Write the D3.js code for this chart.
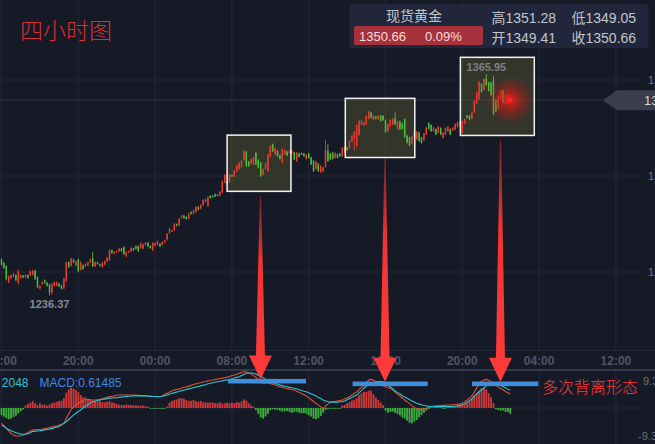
<!DOCTYPE html>
<html><head><meta charset="utf-8">
<script src="https://cdn.jsdelivr.net/npm/d3@7"></script>
<style>html,body{margin:0;padding:0;background:#161a27;overflow:hidden}svg{display:block}</style>
</head><body>
<svg id="c" width="655" height="444"></svg>
<script>
// ---------- DATA ----------
// candles: [open, high, low, close]
const candles = [
[1257.4,1257.9,1253.9,1254.4],[1255.4,1255.9,1252.0,1252.5],[1253.5,1254.0,1245.2,1246.0],[1244.1,1248.1,1243.6,1247.6],[1246.6,1248.7,1246.1,1248.2],
[1247.6,1249.5,1247.1,1249.0],[1248.2,1248.7,1244.8,1245.3],[1243.5,1251.4,1242.8,1250.5],[1246.6,1248.7,1246.1,1248.2],[1248.1,1248.5,1246.5,1246.9],
[1247.1,1248.7,1246.7,1248.3],[1248.2,1248.7,1246.1,1246.6],[1248.2,1251.0,1247.7,1250.5],[1248.6,1251.4,1248.1,1250.9],[1250.9,1251.4,1245.5,1246.2],
[1247.0,1247.5,1240.7,1241.4],[1240.4,1242.4,1239.9,1241.9],[1243.0,1244.6,1242.6,1244.2],[1245.3,1245.7,1243.2,1243.7],[1243.8,1244.2,1241.6,1242.1],
[1242.7,1243.2,1236.37,1238.5],[1238.0,1243.6,1236.8,1243.0],[1242.1,1244.6,1241.6,1244.1],[1242.3,1244.6,1241.6,1244.0],[1243.3,1243.8,1241.2,1241.7],
[1242.1,1242.6,1239.9,1240.4],[1240.6,1246.7,1240.1,1246.2],[1245.0,1256.3,1244.2,1255.6],[1255.8,1256.3,1252.6,1253.1],[1253.9,1258.4,1253.4,1257.9],
[1257.4,1257.9,1255.3,1255.8],[1253.9,1256.9,1253.4,1256.4],[1257.4,1257.9,1250.0,1250.8],[1251.5,1256.3,1251.0,1255.8],[1254.0,1254.5,1251.4,1251.9],
[1253.5,1255.3,1253.0,1254.8],[1254.1,1256.3,1253.6,1255.8],[1256.0,1258.1,1255.5,1257.6],[1258.0,1261.8,1253.0,1253.5],[1253.5,1256.3,1253.0,1255.8],
[1255.7,1256.1,1254.5,1254.9],[1254.5,1254.9,1253.4,1253.8],[1253.1,1255.9,1252.6,1255.4],[1254.5,1256.9,1254.0,1256.4],[1256.4,1259.0,1255.9,1258.5],
[1257.0,1263.3,1256.5,1262.6],[1262.8,1263.3,1260.8,1261.3],[1260.8,1262.2,1260.4,1261.8],[1261.6,1262.7,1261.2,1262.3],[1262.2,1264.1,1261.8,1263.7],
[1263.9,1264.3,1261.8,1262.2],[1264.6,1265.1,1260.0,1260.6],[1259.3,1262.2,1258.8,1261.7],[1261.6,1262.7,1261.2,1262.3],[1262.2,1264.7,1261.8,1264.2],
[1263.9,1264.3,1262.4,1262.8],[1265.2,1265.7,1263.3,1263.7],[1265.2,1265.7,1261.8,1262.3],[1264.2,1267.4,1263.7,1266.9],[1263.8,1266.7,1263.3,1266.2],
[1266.1,1267.6,1265.7,1267.2],[1267.2,1267.6,1264.7,1265.1],[1265.3,1265.7,1263.7,1264.1],[1262.9,1267.6,1262.4,1267.1],[1265.5,1267.6,1265.1,1267.2],
[1266.2,1268.6,1265.7,1268.1],[1266.6,1267.0,1264.7,1265.1],[1266.1,1268.0,1265.7,1267.6],[1267.4,1269.0,1267.0,1268.6],[1269.1,1272.9,1268.6,1272.4],
[1273.0,1276.0,1272.5,1275.5],[1273.8,1274.9,1273.5,1274.6],[1274.6,1278.8,1274.1,1278.3],[1278.0,1278.4,1276.8,1277.2],[1277.5,1281.7,1277.0,1281.2],
[1281.9,1283.5,1281.5,1283.1],[1283.1,1283.5,1281.3,1281.7],[1282.3,1282.7,1280.7,1281.1],[1281.4,1284.8,1280.9,1284.3],[1285.2,1285.6,1283.7,1284.1],
[1284.2,1286.6,1283.7,1286.1],[1285.1,1288.6,1284.6,1288.1],[1288.2,1288.6,1286.2,1286.6],[1287.3,1289.7,1286.8,1289.2],[1289.2,1292.7,1288.7,1292.2],
[1291.3,1293.0,1290.9,1292.6],[1288.7,1294.4,1288.2,1293.9],[1294.6,1295.0,1293.0,1293.4],[1294.6,1295.0,1293.6,1294.0],[1295.6,1296.0,1294.0,1294.4],
[1295.3,1295.6,1294.6,1294.9],[1294.9,1297.5,1294.4,1297.0],[1296.7,1303.8,1296.2,1303.0],[1302.5,1307.3,1302.0,1306.8],[1302.9,1303.2,1301.6,1301.9],
[1302.7,1307.7,1302.2,1307.2],[1306.9,1307.1,1305.7,1306.0],[1306.1,1309.7,1305.7,1309.3],[1309.1,1312.6,1308.7,1312.2],[1310.5,1314.5,1310.1,1314.1],
[1311.6,1315.5,1311.2,1315.1],[1316.0,1321.4,1315.5,1320.9],[1320.5,1321.0,1311.6,1312.2],[1314.7,1315.1,1311.6,1312.0],[1313.4,1316.5,1313.0,1316.1],
[1313.0,1317.5,1312.6,1317.1],[1319.9,1320.4,1312.6,1313.1],[1315.7,1316.1,1310.7,1311.1],[1314.1,1314.5,1305.7,1306.2],[1307.1,1310.7,1306.7,1310.3],
[1310.5,1313.9,1310.1,1313.5],[1309.2,1319.4,1308.7,1318.9],[1317.6,1324.3,1317.1,1323.8],[1324.9,1325.3,1320.4,1320.8],[1318.9,1323.0,1318.5,1322.6],
[1321.0,1321.4,1317.5,1317.9],[1318.5,1318.9,1315.9,1316.3],[1314.1,1322.4,1313.6,1321.9],[1318.9,1321.8,1318.5,1321.4],[1320.6,1321.0,1317.9,1318.3],
[1319.7,1321.4,1319.4,1321.1],[1319.5,1321.4,1319.0,1321.0],[1320.0,1320.4,1315.5,1315.9],[1314.9,1320.4,1314.5,1320.0],[1319.4,1319.8,1317.1,1317.5],
[1319.7,1320.0,1318.5,1318.8],[1319.4,1319.8,1317.5,1317.9],[1316.3,1319.0,1315.9,1318.6],[1319.4,1319.8,1316.5,1316.9],[1317.1,1317.5,1312.6,1313.1],
[1315.1,1315.5,1308.7,1309.2],[1310.5,1315.1,1310.1,1314.7],[1313.5,1313.9,1308.7,1309.1],[1308.5,1312.6,1308.1,1312.2],[1309.1,1311.6,1308.7,1311.2],
[1311.6,1327.2,1311.2,1321.4],[1321.0,1324.9,1314.5,1315.0],[1319.4,1319.8,1315.5,1315.9],[1320.0,1320.4,1315.9,1316.3],[1316.9,1320.0,1316.5,1319.6],
[1319.0,1319.4,1316.5,1316.9],[1319.4,1319.8,1317.5,1317.9],[1317.9,1323.3,1317.5,1322.9],[1320.2,1323.7,1319.8,1323.3],[1322.9,1323.3,1321.0,1321.4],
[1322.8,1327.2,1322.4,1326.8],[1326.6,1330.2,1326.2,1329.8],[1328.3,1332.7,1321.0,1332.2],[1324.0,1336.6,1323.3,1336.0],[1330.3,1339.0,1329.8,1338.5],
[1336.4,1339.0,1336.0,1338.6],[1335.9,1338.0,1335.5,1337.6],[1336.5,1341.9,1336.0,1341.4],[1339.8,1344.4,1339.4,1344.0],[1343.4,1343.8,1340.0,1340.4],
[1339.0,1341.9,1338.6,1341.5],[1341.0,1341.3,1339.4,1339.7],[1339.4,1341.9,1339.0,1341.5],[1341.5,1341.9,1338.0,1338.4],[1341.5,1341.9,1338.6,1339.0],
[1339.0,1339.4,1331.5,1332.0],[1332.5,1337.0,1332.1,1336.6],[1335.4,1339.4,1335.0,1339.0],[1336.4,1340.0,1336.0,1339.6],[1340.0,1343.5,1336.0,1336.5],
[1333.9,1338.6,1333.5,1338.2],[1338.2,1338.6,1333.1,1333.5],[1337.0,1337.4,1333.5,1333.9],[1339.6,1340.0,1328.6,1329.1],[1329.8,1330.2,1325.3,1325.7],
[1328.8,1329.2,1323.7,1324.2],[1325.3,1329.6,1324.9,1329.2],[1328.8,1333.1,1328.4,1332.7],[1327.7,1332.7,1327.3,1332.3],[1331.7,1332.1,1326.2,1326.7],
[1328.8,1329.2,1325.3,1325.7],[1327.2,1331.5,1326.8,1331.1],[1330.6,1335.0,1330.2,1334.6],[1337.2,1337.6,1333.5,1333.9],[1336.1,1336.5,1332.1,1332.5],
[1332.5,1335.0,1332.1,1334.6],[1333.7,1334.1,1330.2,1330.6],[1331.6,1335.5,1331.2,1335.1],[1334.3,1334.7,1330.2,1330.6],[1328.6,1332.1,1328.2,1331.7],
[1330.6,1334.7,1330.2,1334.3],[1332.5,1335.5,1332.1,1335.1],[1333.7,1334.1,1330.2,1330.6],[1333.0,1334.7,1332.7,1334.4],[1333.5,1337.0,1333.1,1336.6],
[1335.1,1338.0,1334.7,1337.6],[1335.9,1338.6,1335.5,1338.2],[1331.6,1338.6,1331.2,1338.2],[1337.0,1340.0,1336.6,1339.6],[1341.6,1341.9,1340.0,1340.3],
[1341.5,1341.9,1339.0,1339.4],[1339.8,1343.8,1339.4,1343.4],[1343.6,1350.7,1343.2,1350.3],[1348.8,1355.6,1348.4,1355.2],[1351.1,1361.8,1350.7,1361.3],
[1360.1,1360.5,1355.0,1355.4],[1356.6,1363.4,1356.2,1363.0],[1363.4,1365.95,1358.9,1359.4],[1361.0,1361.4,1355.6,1356.0],[1361.0,1361.4,1353.0,1353.5],
[1362.0,1364.8,1341.9,1342.5],[1350.7,1351.1,1343.8,1344.2],[1345.6,1353.6,1345.2,1353.2],[1351.5,1356.6,1351.1,1356.2],[1356.2,1356.6,1348.8,1349.2],
[1348.8,1354.2,1348.4,1353.8],[1349.0,1354.2,1348.8,1353.6],[1349.41,1351.28,1349.05,1350.66]
];

const macdHist = [
-2.4,-2.9,-3.4,-3.8,-3.6,-3.1,-2.6,-1.8,-1.1,-0.5,
0.8,1.4,1.8,2.4,1.6,1.0,1.6,1.0,1.2,0.8,
1.2,1.6,1.8,2.1,2.4,2.5,3.3,5.2,6.3,6.9,
6.6,6.1,5.4,4.4,3.6,3.6,2.9,2.7,2.5,2.3,
2.1,2.4,2.0,1.9,2.1,2.4,1.9,1.7,1.4,1.1,
1.0,1.0,1.2,1.0,1.0,0.9,0.9,0.8,0.8,0.8,
0.7,0.45,-0.25,-0.25,-0.25,-0.25,-0.25,-0.25,-0.15,0.45,
1.8,2.4,2.7,2.9,3.3,3.3,3.1,2.7,2.4,2.5,
2.7,2.3,2.1,2.4,1.9,2.0,1.8,1.8,1.9,1.6,
1.6,1.9,1.4,1.6,1.8,1.6,1.8,1.6,2.0,1.8,
2.3,2.9,2.5,1.6,0.9,0.45,-0.7,-2.0,-3.2,-3.6,
-2.9,-2.0,-0.7,-0.45,-0.55,-0.7,-0.9,-1.25,-1.1,-1.0,
-1.35,-1.6,-1.35,-1.25,-1.6,-1.8,-1.7,-2.0,-2.5,-2.9,
-3.6,-3.8,-3.4,-2.7,-1.6,-0.7,-0.35,-0.1,-0.25,-0.25,
-0.1,-0.1,0.8,1.1,1.6,2.0,2.5,2.9,3.4,4.3,
5.0,5.5,5.5,5.9,5.9,4.7,3.6,2.7,1.9,1.0,
-0.9,-1.6,-1.35,-1.25,-1.6,-2.0,-2.5,-3.2,-3.6,-4.3,
-5.0,-5.2,-4.6,-4.1,-3.2,-2.4,-1.6,-0.9,-0.35,0.2,
0.45,0.35,0.45,0.45,-0.2,-0.25,0.35,0.45,0.7,0.55,
0.9,1.1,1.4,1.6,2.0,2.6,3.4,4.2,5.0,5.9,
6.7,7.0,6.3,5.0,3.6,1.6,-0.4,-0.7,-0.9,-0.8,
-1.25,-1.35,-2.0
];

const difLine = [
-5.2,-6.0,-6.9,-7.8,-8.6,-9.2,-9.5,-9.5,-9.4,-9.2,
-8.8,-8.4,-7.9,-7.5,-7.4,-7.3,-7.3,-7.2,-7.0,-6.8,
-6.7,-6.5,-6.3,-6.1,-5.8,-5.5,-5.2,-3.5,-2.0,-0.6,
0.4,1.0,1.6,2.1,2.5,2.8,2.9,2.8,2.7,2.7,
2.8,2.9,3.1,3.4,3.6,3.8,4.0,4.1,4.3,4.4,
4.4,4.4,4.4,4.4,4.4,4.4,4.3,4.3,4.2,4.2,
4.1,4.1,4.0,3.9,3.9,3.8,3.8,4.2,4.6,5.0,
5.4,5.8,6.1,6.3,6.5,6.7,7.0,7.2,7.4,7.7,
8.0,8.2,8.4,8.6,8.8,9.0,9.2,9.4,9.5,9.7,
9.8,10.0,10.1,10.3,10.4,10.7,11.0,11.2,11.5,11.8,
12.1,12.3,12.2,11.9,11.5,11.0,10.4,9.7,9.0,8.4,
8.5,8.6,8.3,8.1,7.8,7.5,7.2,7.0,6.8,6.6,
6.4,6.2,6.1,5.7,5.3,4.9,4.5,4.1,3.5,2.9,
2.2,1.6,1.0,0.4,-0.1,0.6,1.3,2.0,2.1,2.2,
2.4,2.5,2.7,3.1,3.4,3.8,4.4,4.9,5.5,6.3,
7.0,7.8,8.6,9.4,9.7,9.4,8.9,8.4,8.0,7.5,
7.2,6.9,6.7,6.1,5.4,4.8,4.1,3.4,2.7,2.1,
1.5,0.8,0.2,-0.2,-0.4,-0.4,-0.3,-0.1,0.2,0.4,
0.7,0.7,0.8,0.8,0.9,0.9,1.0,1.0,1.1,1.2,
1.3,1.4,1.6,2.1,2.7,3.4,4.1,5.4,6.8,8.2,
9.0,9.5,9.7,9.4,9.0,8.4,7.8,7.1,6.6,6.2,
5.6,5.2,4.7
];

const deaLine = [
-5.8,-6.3,-6.9,-7.3,-7.7,-8.1,-8.4,-8.6,-8.8,-8.9,
-8.9,-8.7,-8.4,-8.0,-7.9,-7.8,-7.7,-7.6,-7.4,-7.3,
-7.2,-7.0,-6.7,-6.5,-6.3,-5.8,-5.2,-4.6,-3.9,-3.1,
-2.4,-1.8,-1.2,-0.7,0.0,0.7,1.1,1.6,2.1,2.3,
2.5,2.7,2.9,3.0,3.2,3.3,3.4,3.5,3.5,3.6,
3.7,3.8,3.9,4.0,4.0,4.1,4.1,4.1,4.1,4.1,
4.1,4.0,4.0,3.9,3.9,3.8,3.8,4.0,4.2,4.4,
4.7,5.0,5.2,5.4,5.6,5.9,6.1,6.3,6.5,6.7,
6.9,7.1,7.3,7.5,7.7,7.9,8.2,8.4,8.6,8.8,
8.9,9.1,9.2,9.4,9.5,9.7,9.9,10.2,10.4,10.6,
11.0,11.4,11.8,11.9,11.9,11.8,11.5,11.1,10.8,10.3,
9.7,9.4,9.0,8.7,8.4,8.1,7.8,7.6,7.4,7.2,
7.0,6.9,6.7,6.5,6.2,6.0,5.7,5.5,5.2,4.8,
4.5,4.1,3.6,3.2,2.7,2.4,2.2,2.0,2.0,2.0,
2.0,2.1,2.1,2.4,2.8,3.2,3.6,4.0,4.4,5.2,
6.0,6.7,7.4,8.1,8.5,8.7,8.9,9.0,9.0,8.9,
8.4,7.8,7.2,6.6,5.8,5.3,4.8,4.2,3.7,3.3,
2.8,2.4,2.0,1.6,1.4,1.1,0.9,0.7,0.6,0.5,
0.5,0.45,0.45,0.45,0.45,0.45,0.45,0.45,0.5,0.6,
0.7,0.8,1.0,1.4,1.9,2.5,3.1,4.0,4.8,5.5,
6.2,6.7,7.5,8.2,8.4,8.4,8.4,8.1,7.7,7.2,
6.8,6.4,6.1
];

const timeLabels = ["16:00","20:00","00:00","08:00","12:00","16:00","20:00","04:00","12:00"];
const timeTickIndex = [0,32,64,96,128,160,192,224,256];
const priceTicks = [1362.44, 1306.28, 1250.12];
const macdTicks = [9.30, -9.30];

const title = "四小时图";
const quoteName = "现货黄金";
const quoteLast = "1350.66", quoteChange = "0.09%";
const quoteFields = [["高","1351.28"],["低","1349.05"],["开","1349.41"],["收","1350.66"]];
const indicatorLabels = ["2048","MACD:0.61485"];
const noteText = "多次背离形态";

// highlight boxes (candle index range, price range)
const boxSpecs = [
  {from:94.0, to:120.6, hi:1330.2, lo:1297.3},
  {from:143.25, to:172.2, hi:1351.7, lo:1317.1},
  {from:191.2, to:222.0, hi:1375.7, lo:1330.0}
];
// arrows: candle index, start price, end MACD level
const arrowSpecs = [
  {at:107.9, fromPrice:1294.6, toMacd:9.7},
  {at:159.8, fromPrice:1316.6, toMacd:8.9},
  {at:207.9, fromPrice:1327.3, toMacd:8.9}
];
// blue marker bars on MACD panel
const barSpecs = [
  {from:94.4, to:126.9, level:9.1},
  {from:146.3, to:177.6, level:8.2},
  {from:196.0, to:223.7, level:8.2}
];

// ---------- CHART ----------
const W = 655, H = 444;
const svg = d3.select("#c");
const NUM = "'Liberation Sans', Arial, 'Noto Sans CJK SC', sans-serif";
const CJK = "'Noto Sans CJK SC', 'Noto Sans', sans-serif";

const x = d3.scaleLinear().domain([0, 272]).range([1.5, 654.3]);
const y = d3.scaleLinear().domain([1236.37, 1365.95]).range([295.5, 74]);
const ym = d3.scaleLinear().domain([-9.3, 9.3]).range([435.4, 380.6]);

const RED = "#e63c2d", GREEN = "#4cbd3a", GRID = "#232838";

const defs = svg.append("defs");
const glow = defs.append("radialGradient").attr("id","glow");
glow.append("stop").attr("offset","0%").attr("stop-color","#ff1a1a").attr("stop-opacity",0.95);
glow.append("stop").attr("offset","35%").attr("stop-color","#e01818").attr("stop-opacity",0.55);
glow.append("stop").attr("offset","100%").attr("stop-color","#c01010").attr("stop-opacity",0);
const ag = defs.append("linearGradient").attr("id","arrowGrad").attr("x1",0).attr("y1",0).attr("x2",0).attr("y2",1);
ag.append("stop").attr("offset","0%").attr("stop-color","#c02a2a").attr("stop-opacity",0.55);
ag.append("stop").attr("offset","35%").attr("stop-color","#f03434");
ag.append("stop").attr("offset","100%").attr("stop-color","#ff3b3b");

svg.append("rect").attr("width",W).attr("height",H).attr("fill","#161a27");

// grid
const g = svg.append("g");
timeTickIndex.forEach(t => {
  g.append("line").attr("x1",x(t)).attr("x2",x(t)).attr("y1",0).attr("y2",350).attr("stroke",GRID).attr("stroke-width",1);
  g.append("line").attr("x1",x(t)).attr("x2",x(t)).attr("y1",371).attr("y2",H).attr("stroke",GRID).attr("stroke-width",1);
});
priceTicks.forEach(p => {
  g.append("line").attr("x1",0).attr("x2",645).attr("y1",y(p)).attr("y2",y(p)).attr("stroke",GRID);
  g.append("text").attr("x",648).attr("y",y(p)+4).attr("fill","#6b7080").attr("font-size",11)
    .attr("font-family",NUM).text(p.toFixed(2));
});
g.append("line").attr("x1",0).attr("x2",W).attr("y1",350.5).attr("y2",350.5).attr("stroke",GRID);
g.append("line").attr("x1",0).attr("x2",W).attr("y1",370).attr("y2",370).attr("stroke","#343949").attr("stroke-width",2);

const last = candles[candles.length-1];
const lastIdx = candles.length-1;
// current price line
g.append("line").attr("x1",0).attr("x2",603).attr("y1",y(last[3])).attr("y2",y(last[3])).attr("stroke","#2d3242");

// box fills
boxSpecs.forEach(b => {
  svg.append("rect").attr("x",x(b.from)).attr("y",y(b.hi)).attr("width",x(b.to)-x(b.from)).attr("height",y(b.lo)-y(b.hi))
    .attr("fill","rgb(100,98,50)").attr("fill-opacity",0.38);
});

// candles
const cg = svg.append("g");
candles.forEach((d,i) => {
  const [o,h,l,c] = d;
  const col = c >= o ? RED : GREEN;
  const cx = x(i);
  cg.append("line").attr("x1",cx).attr("x2",cx).attr("y1",y(h)).attr("y2",y(l)).attr("stroke",col).attr("stroke-width",0.9);
  const top = y(Math.max(o,c)), bot = y(Math.min(o,c));
  cg.append("rect").attr("x",cx-0.75).attr("width",1.5).attr("y",top).attr("height",Math.max(1,bot-top)).attr("fill",col);
});

// box strokes
boxSpecs.forEach(b => {
  svg.append("rect").attr("x",x(b.from)).attr("y",y(b.hi)).attr("width",x(b.to)-x(b.from)).attr("height",y(b.lo)-y(b.hi))
    .attr("fill","none").attr("stroke","#f4f4f4").attr("stroke-width",1.5);
});

// glow on last price
svg.append("circle").attr("cx",x(lastIdx)).attr("cy",y(last[3])).attr("r",24).attr("fill","url(#glow)");
svg.append("circle").attr("cx",x(lastIdx)).attr("cy",y(last[3])).attr("r",2.2).attr("fill","#ff2a2a");

// high / low labels
let hiI = 0, loI = 0;
candles.forEach((d,i) => { if (d[1] > candles[hiI][1]) hiI = i; if (d[2] < candles[loI][2]) loI = i; });
svg.append("text").attr("x",x(hiI)).attr("y",y(candles[hiI][1])-3).attr("text-anchor","middle")
  .attr("fill","#7d8088").attr("font-size",11).attr("font-weight","bold").attr("font-family",NUM).text(candles[hiI][1].toFixed(2));
svg.append("text").attr("x",x(loI)).attr("y",y(candles[loI][2])+12).attr("text-anchor","middle")
  .attr("fill","#868a94").attr("font-size",11).attr("font-weight","bold").attr("font-family",NUM).text(candles[loI][2].toFixed(2));

// title
svg.append("text").attr("x",20).attr("y",39).attr("fill","#d9302f").attr("font-size",23).attr("font-weight",300)
  .attr("font-family",CJK).text(title);

// quote panel
svg.append("rect").attr("x",349.5).attr("y",4).attr("width",299).attr("height",44).attr("rx",3).attr("fill","#21263a");
svg.append("text").attr("x",414).attr("y",20.5).attr("text-anchor","middle").attr("fill","#c3c5cb").attr("font-size",14)
  .attr("font-family",CJK).text(quoteName);
svg.append("rect").attr("x",354).attr("y",26).attr("width",129).attr("height",19).attr("rx",2).attr("fill","#a8323c");
svg.append("text").attr("x",359).attr("y",41).attr("fill","#f3dede").attr("font-size",13).attr("font-family",NUM).text(quoteLast);
svg.append("text").attr("x",425).attr("y",41).attr("fill","#f3dede").attr("font-size",13).attr("font-family",NUM).text(quoteChange);
quoteFields.forEach((f,k) => {
  svg.append("text").attr("x", k%2===0 ? 491.5 : 571.5).attr("y", k<2 ? 23 : 42.5)
    .attr("fill","#c3c5cb").attr("font-size",14).attr("font-family",NUM).text(f[0]+f[1]);
});

// price tag
const ty = y(last[3]);
svg.append("path").attr("d",`M603,${ty} L617,${ty-10} L655,${ty-10} L655,${ty+10} L617,${ty+10} Z`).attr("fill","#393d4c");
svg.append("text").attr("x",644).attr("y",ty+4.5).attr("fill","#d6d6d6").attr("font-size",13).attr("font-family",NUM).text(last[3].toFixed(2));

// time axis labels
timeLabels.forEach((t,k) => {
  svg.append("text").attr("x",x(timeTickIndex[k])).attr("y",364.5).attr("text-anchor","middle")
    .attr("fill","#4e5465").attr("font-size",12).attr("font-weight","bold").attr("font-family",NUM).text(t);
});

// MACD panel
svg.append("line").attr("x1",0).attr("x2",645).attr("y1",ym(0)).attr("y2",ym(0)).attr("stroke",GRID);
macdTicks.forEach(v => {
  svg.append("text").attr("x", v>0 ? 643 : 638).attr("y", ym(v)+4.5).attr("fill","#6b7080").attr("font-size",11)
    .attr("font-family",NUM).text(v.toFixed(2));
});
const hg = svg.append("g");
macdHist.forEach((v,i) => {
  const y0 = ym(0), y1 = ym(v);
  hg.append("rect").attr("x",x(i)-0.95).attr("width",1.9).attr("y",Math.min(y0,y1)).attr("height",Math.max(0.8,Math.abs(y1-y0)))
    .attr("fill", v >= 0 ? "#cd3737" : "#3caa3c");
});
const line = d3.line().x((d,i)=>x(i)).y(d=>ym(d)).curve(d3.curveMonotoneX);
svg.append("path").attr("d",line(difLine)).attr("fill","none").attr("stroke","#dc5232").attr("stroke-width",1.1);
svg.append("path").attr("d",line(deaLine)).attr("fill","none").attr("stroke","#25c6d6").attr("stroke-width",1.1);

svg.append("text").attr("x",28.5).attr("y",386.5).attr("text-anchor","end").attr("fill","#2cc4d4").attr("font-size",12)
  .attr("font-family",NUM).text(indicatorLabels[0]);
svg.append("text").attr("x",39.5).attr("y",386.5).attr("fill","#4187e6").attr("font-size",12)
  .attr("font-family",NUM).text(indicatorLabels[1]);

// blue marker bars
barSpecs.forEach(b => {
  svg.append("rect").attr("x",x(b.from)).attr("width",x(b.to)-x(b.from)).attr("y",ym(b.level)-2.3).attr("height",4.6)
    .attr("fill","#3f8edc");
});

// arrows
arrowSpecs.forEach(a => {
  const ax = x(a.at), y0 = y(a.fromPrice), yt = ym(a.toMacd), yh = yt - 24;
  svg.append("path").attr("d",`M${ax-0.6},${y0} L${ax+0.6},${y0} L${ax+4.5},${yh} L${ax+11.5},${yh} L${ax},${yt} L${ax-11.5},${yh} L${ax-4.5},${yh} Z`)
    .attr("fill","url(#arrowGrad)");
});

// annotation
svg.append("text").attr("x",542).attr("y",393).attr("fill","#ff3b3b").attr("font-size",16).attr("font-weight",300)
  .attr("font-family",CJK).text(noteText);
</script>
</body></html>
